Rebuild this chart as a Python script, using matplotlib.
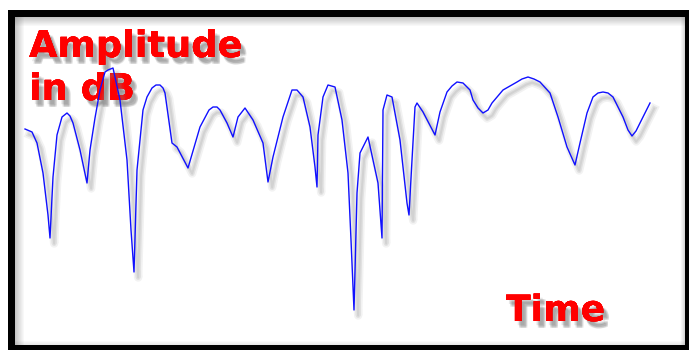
import matplotlib
matplotlib.use("Agg")
import matplotlib.pyplot as plt
import matplotlib.patheffects as pe
from matplotlib.patches import Rectangle

# time (arbitrary units) and amplitude (dB)
time = [0, 1.12, 1.92, 2.88, 3.68, 4.0, 4.48, 5.12, 5.92, 6.72,
        7.2, 7.68, 8.8, 9.92, 10.4, 11.2, 12.0, 12.8, 13.28, 14.08,
        15.2, 16.32, 16.96, 17.44, 17.92, 18.88, 19.52, 20.32, 20.96, 21.6,
        22.08, 22.4, 23.52, 24.32, 26.08, 28.0, 29.44, 30.08, 30.72, 31.2,
        32.32, 33.28, 34.08, 35.2, 36.48, 38.08, 38.88, 39.68, 41.28, 42.72,
        43.52, 44.48, 45.6, 46.4, 46.72, 46.88, 47.68, 48.48, 49.6, 50.72,
        51.68, 52.16, 52.64, 53.12, 53.6, 54.88, 55.68, 56.48, 57.12, 57.28,
        57.92, 58.72, 60.0, 61.12, 61.44, 61.92, 62.4, 62.72, 63.68, 65.6,
        66.4, 67.52, 68.32, 69.12, 70.08, 71.2, 71.68, 72.48, 73.28, 74.08,
        74.72, 76.48, 78.72, 79.52, 80.48, 81.44, 82.4, 84.0, 85.28, 86.72,
        88.0, 88.8, 89.92, 90.88, 91.68, 92.48, 93.28, 94.08, 95.68, 96.48,
        97.12, 97.76, 98.4, 100.0]
amp_db = [0.25, -0.5, -3.25, -10.75, -21.25, -27, -11.75, -1.25, 3.25, 4.25,
          3.5, 1.75, -5, -13.25, -5, 3, 10, 14.5, 15, 15.5,
          7.5, -7.5, -25, -35.5, -10, 5, 8.25, 10.5, 11.25, 11.25,
          10.5, 9.25, -3.25, -4.25, -9.5, 0.75, 5, 5.75, 5.75, 5,
          1.75, -1.75, 3.25, 5.5, 2.5, -3.25, -13, -6.75, 3.25, 10,
          10, 8.25, 0.75, -9.25, -14.25, -1.25, 8.25, 11.25, 10.75, 2.5,
          -10.75, -27.5, -45, -15.75, -5.75, -1.75, -7.5, -13.25, -27, 5,
          8.75, 8.25, -2.5, -18.25, -21.25, -7.5, 5.75, 6.75, 4.5, -1.25,
          4.5, 9.5, 11, 12, 11.75, 10, 7.5, 5.5, 4.25, 5,
          6.75, 10, 12, 12.75, 13.25, 12.75, 12, 9.25, 3.25, -4.25,
          -8.75, -3.25, 4.25, 8.25, 9.25, 9.5, 9.25, 8.25, 3.25, 0,
          -1.5, -0.25, 1.75, 6.75]

y_title = ["Amplitude", "in dB"]
x_title = "Time"

W, H = 689, 350
fig = plt.figure(figsize=(W / 100, H / 100), dpi=100)

# background layer in pixel coordinates: frame + inner shading + labels
ax0 = fig.add_axes([0, 0, 1, 1])
ax0.set_xlim(0, W)
ax0.set_ylim(H, 0)
ax0.axis("off")
ax0.add_patch(Rectangle((8, 10), W - 8, H - 10, color="black", lw=0))
ax0.add_patch(Rectangle((15, 17), 670, 328, color="white", lw=0))
for i in range(9):
    a = 0.45 * (1 - i / 9)
    ax0.add_patch(Rectangle((15 + i, 17), 1, 328, color="#808080", alpha=a, lw=0))
    ax0.add_patch(Rectangle((15, 17 + i), 670, 1, color="#808080", alpha=a, lw=0))
for i in range(4):
    a = 0.3 * (1 - i / 4)
    ax0.add_patch(Rectangle((684 - i, 17), 1, 328, color="#808080", alpha=a, lw=0))
    ax0.add_patch(Rectangle((15, 344 - i), 670, 1, color="#808080", alpha=a * 0.6, lw=0))

# soft shadow: a few offset copies
shadow = [pe.withSimplePatchShadow(offset=o, shadow_rgbFace="#606060", alpha=0.14)
          for o in [(2, -3), (3, -4), (4, -5), (3, -5), (4, -4)]]
ax0.text(29, 57, y_title[0], color="#ff0000", fontsize=26.5, fontweight="bold",
         va="baseline", ha="left", path_effects=shadow)
ax0.text(29, 100, y_title[1], color="#ff0000", fontsize=26.5, fontweight="bold",
         va="baseline", ha="left", path_effects=shadow)
ax0.text(506, 321, x_title, color="#ff0000", fontsize=26, fontweight="bold",
         va="baseline", ha="left", path_effects=shadow)

# data layer
ax = fig.add_axes([15 / W, 5 / H, 670 / W, 328 / H], zorder=2)
ax.patch.set_alpha(0)
ax.set_xlim(-1.6, 105.6)
ax.set_ylim(-53.75, 28.25)
ax.axis("off")
ax.plot(time, amp_db, color="#1010ff", lw=1.0,
        path_effects=[pe.SimpleLineShadow(offset=(3, -4), shadow_color="#808080", alpha=0.1, linewidth=6),
                      pe.SimpleLineShadow(offset=(3, -4), shadow_color="#808080", alpha=0.15, linewidth=3.5),
                      pe.SimpleLineShadow(offset=(3, -4), shadow_color="#808080", alpha=0.15, linewidth=1.5),
                      pe.Normal()])

fig.savefig("out.png", dpi=100)
